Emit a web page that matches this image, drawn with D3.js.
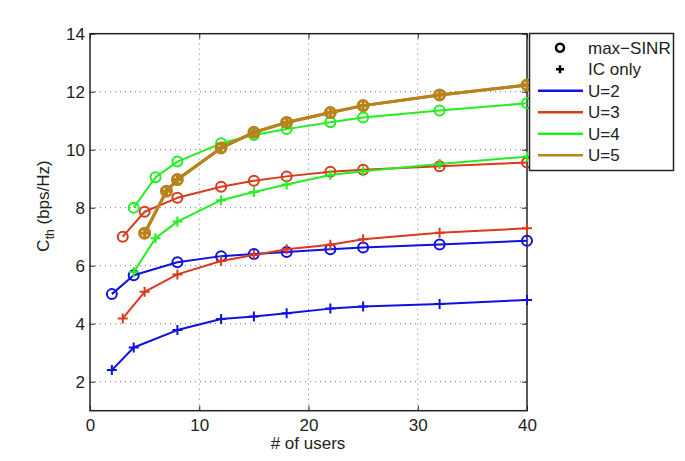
<!DOCTYPE html>
<html><head><meta charset="utf-8">
<script src="https://cdn.jsdelivr.net/npm/d3@7"></script>
<style>body{margin:0;background:#fff}svg{font-family:"Liberation Sans",Arial,sans-serif}</style>
</head><body><svg id="c" width="685" height="461"></svg>
<script>
const xTicks = [0, 10, 20, 30, 40];
const yTicks = [2, 4, 6, 8, 10, 12, 14];
const seriesNames = ["U=2", "U=3", "U=4", "U=5"];
const seriesColors = ["#1010e0", "#d83a1c", "#22ee22", "#b8821c"];
const x2 = [2, 4, 8, 12, 15, 18, 22, 25, 32, 40];
const x3 = [3, 5, 8, 12, 15, 18, 22, 25, 32, 40];
const x4 = [4, 6, 8, 12, 15, 18, 22, 25, 32, 40];
const x5 = [5, 7, 8, 12, 15, 18, 22, 25, 32, 40];
const sinr2 = [5.02, 5.67, 6.12, 6.33, 6.40, 6.47, 6.57, 6.63, 6.73, 6.86];
const ic2 = [2.40, 3.18, 3.78, 4.16, 4.25, 4.36, 4.52, 4.59, 4.68, 4.82];
const sinr3 = [7.00, 7.86, 8.34, 8.72, 8.93, 9.08, 9.24, 9.31, 9.43, 9.56];
const ic3 = [4.18, 5.10, 5.70, 6.16, 6.37, 6.57, 6.72, 6.91, 7.14, 7.29];
const sinr4 = [8.00, 9.05, 9.59, 10.22, 10.51, 10.71, 10.95, 11.11, 11.35, 11.60];
const ic4 = [5.78, 6.95, 7.52, 8.26, 8.54, 8.80, 9.13, 9.26, 9.51, 9.76];
const sinr5 = [7.12, 8.57, 8.97, 10.06, 10.60, 10.94, 11.28, 11.52, 11.89, 12.23];
const ic5 = [7.12, 8.57, 8.97, 10.06, 10.60, 10.94, 11.28, 11.52, 11.89, 12.23];

const series = [
  {name: "U=2", xs: x2, sinr: sinr2, ic: ic2, w: 2},
  {name: "U=3", xs: x3, sinr: sinr3, ic: ic3, w: 2},
  {name: "U=4", xs: x4, sinr: sinr4, ic: ic4, w: 2},
  {name: "U=5", xs: x5, sinr: sinr5, ic: ic5, w: 3}
];

const svg = d3.select("#c");
const L = 90, R = 527, T = 33.7, B = 410.7;
const FS = 17;
const x = d3.scaleLinear().domain([0, 40]).range([L, R]);
const y = d3.scaleLinear().domain([1, 14]).range([B, T]);

// grid
const g = svg.append("g");
g.selectAll(".vg").data(xTicks.slice(1, -1)).enter().append("line")
  .attr("x1", d => x(d)).attr("x2", d => x(d)).attr("y1", T).attr("y2", B)
  .attr("stroke", "#555").attr("stroke-width", 0.8).attr("stroke-dasharray", "1,4");
g.selectAll(".hg").data(yTicks.slice(0, -1)).enter().append("line")
  .attr("x1", L).attr("x2", R).attr("y1", d => y(d)).attr("y2", d => y(d))
  .attr("stroke", "#555").attr("stroke-width", 0.8).attr("stroke-dasharray", "1,4");

// axes
const ax = svg.append("g").attr("transform", `translate(0,${B})`)
  .call(d3.axisBottom(x).tickValues(xTicks).tickSizeInner(-5).tickSizeOuter(0).tickPadding(8));
const ay = svg.append("g").attr("transform", `translate(${L},0)`)
  .call(d3.axisLeft(y).tickValues(yTicks).tickSizeInner(-5).tickSizeOuter(0).tickPadding(5));
const axTop = svg.append("g").attr("transform", `translate(0,${T})`)
  .call(d3.axisTop(x).tickValues(xTicks).tickSizeInner(-5).tickSizeOuter(0).tickFormat(""));
const ayR = svg.append("g").attr("transform", `translate(${R},0)`)
  .call(d3.axisRight(y).tickValues(yTicks).tickSizeInner(-5).tickSizeOuter(0).tickFormat(""));
[ax, ay, axTop, ayR].forEach(a => {
  a.select(".domain").remove();
  a.selectAll("line").attr("stroke", "#222").attr("stroke-width", 1);
  a.selectAll("text").attr("font-size", FS).attr("fill", "#222").attr("font-family", "Liberation Sans, Arial, sans-serif");
});
svg.append("rect").attr("x", L).attr("y", T).attr("width", R - L).attr("height", B - T)
  .attr("fill", "none").attr("stroke", "#222").attr("stroke-width", 1.5);

// labels
svg.append("text").attr("x", 308).attr("y", 449).attr("text-anchor", "middle")
  .attr("font-size", FS).attr("fill", "#222").text("# of users");
const yl = svg.append("text").attr("transform", `translate(49,206) rotate(-90)`)
  .attr("text-anchor", "middle").attr("font-size", FS).attr("fill", "#222");
yl.append("tspan").text("C");
yl.append("tspan").attr("font-size", 12).attr("dy", 5).text("th");
yl.append("tspan").attr("dy", -5).text(" (bps/Hz)");

// series
const line = d3.line().x(d => x(d[0])).y(d => y(d[1]));
const plot = svg.append("g");
function plus(sel, px, py, s, color, w) {
  sel.append("path").attr("d", `M${px - s},${py}H${px + s}M${px},${py - s}V${py + s}`)
    .attr("stroke", color).attr("stroke-width", w).attr("fill", "none");
}
series.forEach((s, i) => {
  const c = seriesColors[i];
  const pS = s.xs.map((v, k) => [v, s.sinr[k]]);
  const pI = s.xs.map((v, k) => [v, s.ic[k]]);
  [pI, pS].forEach(pts => {
    plot.append("path").attr("d", line(pts)).attr("fill", "none").attr("stroke", c)
      .attr("stroke-width", s.w).attr("stroke-linejoin", "round");
  });
  pS.forEach(p => {
    plot.append("circle").attr("cx", x(p[0])).attr("cy", y(p[1])).attr("r", 5)
      .attr("fill", "none").attr("stroke", c).attr("stroke-width", s.w);
  });
  pI.forEach(p => plus(plot, x(p[0]), y(p[1]), 5, c, s.w));
});

// legend
const lg = svg.append("g");
lg.append("rect").attr("x", 529.5).attr("y", 33.5).attr("width", 144).attr("height", 137)
  .attr("fill", "#fff").attr("stroke", "#222").attr("stroke-width", 1.5);
const ly = [47.7, 69.3, 90.8, 112.3, 133.8, 155.3];
const lt = ["max\u2212SINR", "IC only"].concat(seriesNames);
lg.append("circle").attr("cx", 560).attr("cy", ly[0]).attr("r", 4).attr("fill", "none")
  .attr("stroke", "#000").attr("stroke-width", 2.5);
plus(lg, 560, ly[1], 4, "#000", 2.5);
seriesColors.forEach((c, i) => {
  lg.append("line").attr("x1", 538).attr("x2", 583).attr("y1", ly[i + 2]).attr("y2", ly[i + 2])
    .attr("stroke", c).attr("stroke-width", 2.5);
});
lt.forEach((t, i) => {
  lg.append("text").attr("x", 588).attr("y", ly[i]).attr("dy", "0.36em").attr("font-size", FS)
    .attr("fill", "#222").text(t);
});
</script></body></html>
